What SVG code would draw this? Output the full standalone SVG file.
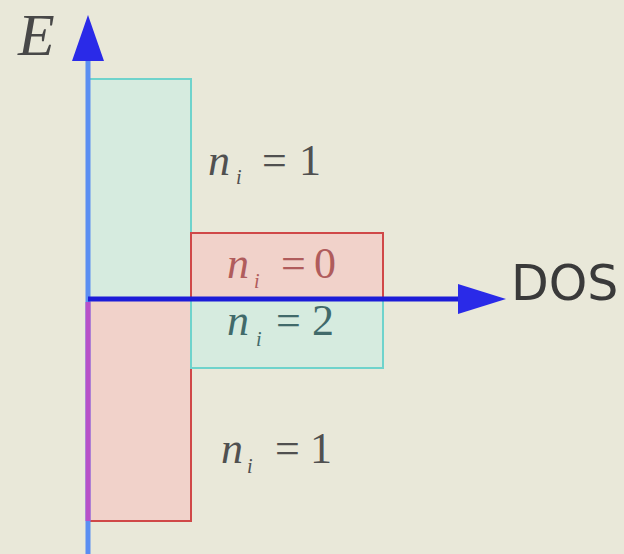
<svg xmlns="http://www.w3.org/2000/svg" width="624" height="554" viewBox="0 0 624 554">
<style>
.lbl{font-family:"Liberation Serif",serif;font-size:44px;fill:#505050}
.it{font-style:italic}
.sub{font-family:"Liberation Serif",serif;font-size:20px;font-style:italic}
.cy{fill:#d6ebdf;stroke:#6fd3cc;stroke-width:2}
.rd{fill:#f1d2ca;stroke:#d04848;stroke-width:2}
</style>
<rect width="624" height="554" fill="#e9e8d9"/>
<g id="box-upper-left"><rect class="cy" x="89" y="79" width="102" height="219"/></g>
<g id="box-lower-left"><rect class="rd" x="89" y="300" width="102" height="221"/></g>
<g id="box-upper-right"><rect class="rd" x="191" y="233" width="192" height="65"/></g>
<g id="box-lower-right"><rect class="cy" x="191" y="300" width="192" height="68"/></g>
<g id="connectors">
<line x1="88" y1="554" x2="88" y2="58" stroke="#5b8ef2" stroke-width="5"/>
<line x1="88" y1="302" x2="88" y2="521" stroke="#b850c8" stroke-width="5"/>
<polygon points="88,15 104,61 72,61" fill="#2a2ae8"/>
<line x1="88" y1="299" x2="462" y2="299" stroke="#1c1cd8" stroke-width="5"/>
<polygon points="506,299 458,284 458,314" fill="#2a2ae8"/>
</g>
<g id="label-E"><text x="18" y="55" font-family="Liberation Serif,serif" font-style="italic" font-size="60" fill="#484848">E</text></g>
<g id="label-DOS"><text x="511" y="300" font-family="DejaVu Sans,sans-serif" font-size="49" fill="#3a3a3a">DOS</text></g>
<g id="label-n1-top">
<text class="lbl it" x="208" y="175">n</text><text class="sub" x="236" y="184" fill="#505050">i</text><text class="lbl" x="262" y="175">=</text><text class="lbl" x="299" y="175">1</text>
</g>
<g id="label-n0">
<text class="lbl it" x="227" y="278" style="fill:#b05c5c">n</text><text class="sub" x="254" y="288" fill="#b05c5c">i</text><text class="lbl" x="281" y="278" style="fill:#b05c5c">=</text><text class="lbl" x="314" y="278" style="fill:#b05c5c">0</text>
</g>
<g id="label-n2">
<text class="lbl it" x="227" y="335" style="fill:#416a6a">n</text><text class="sub" x="256" y="346" fill="#416a6a">i</text><text class="lbl" x="276" y="335" style="fill:#416a6a">=</text><text class="lbl" x="312" y="335" style="fill:#416a6a">2</text>
</g>
<g id="label-n1-bottom">
<text class="lbl it" x="221" y="463">n</text><text class="sub" x="247" y="473" fill="#505050">i</text><text class="lbl" x="275" y="463">=</text><text class="lbl" x="310" y="463">1</text>
</g>
</svg>
